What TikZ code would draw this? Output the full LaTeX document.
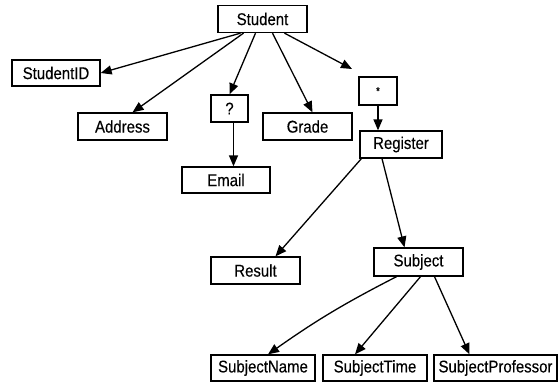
\documentclass[tikz,border=0pt]{standalone}
\usepackage{fontspec}
\setmainfont{Liberation Sans}
\newfontfamily\condfont[FakeStretch=0.88,FakeBold=0.25]{Liberation Sans}
\usetikzlibrary{arrows.meta}
\begin{document}
\begin{tikzpicture}[x=1pt,y=-1pt,
  box/.style={draw,line width=1.3pt,inner sep=0pt,font=\condfont\fontsize{17}{17}\selectfont},
  arr/.style={line width=1.3pt,-{Triangle[length=11pt,width=9pt]}}]
\useasboundingbox (0,0) rectangle (559,383);
\node[box,minimum width=89pt,minimum height=27pt] (student) at (262.5,19) {Student};
\node[box,minimum width=88pt,minimum height=26pt] (sid) at (56,73) {StudentID};
\node[box,minimum width=89pt,minimum height=27pt] (address) at (122.5,126.5) {Address};
\node[box,minimum width=37pt,minimum height=27pt] (q) at (229.5,108.5) {?};
\node[box,minimum width=88pt,minimum height=26pt] (email) at (226,180) {Email};
\node[box,minimum width=89pt,minimum height=27pt] (grade) at (307.5,126.5) {Grade};
\node[box,minimum width=38pt,minimum height=28pt] (star) at (378,91) {\fontsize{11}{11}\selectfont *};
\node[box,minimum width=82pt,minimum height=27pt] (register) at (401,144.5) {Register};
\node[box,minimum width=89pt,minimum height=27pt] (result) at (255.5,270.5) {Result};
\node[box,minimum width=89pt,minimum height=28pt] (subject) at (418.5,262) {Subject};
\node[box,minimum width=104pt,minimum height=26pt] (sname) at (263,368) {SubjectName};
\node[box,minimum width=104pt,minimum height=26pt] (stime) at (375,368) {SubjectTime};
\node[box,minimum width=123pt,minimum height=26pt] (sprof) at (495.5,368) {SubjectProfessor};
\coordinate (free) at (352,69);

\draw[arr] ([xshift=-22pt]student.south) -- (sid.east);
\draw[arr] ([xshift=-19pt]student.south) -- ([xshift=10pt]address.north);
\draw[arr] ([xshift=-7pt]student.south) -- (q.north);
\draw[arr] ([xshift=10pt]student.south) -- ([xshift=5pt]grade.north);
\draw[arr] ([xshift=22pt]student.south) -- (free);
\draw[arr] (star.south) -- (star.south |- register.north);
\draw[arr] ([xshift=4pt]q.south) -- ([xshift=4pt]q.south |- email.north);
\draw[arr] ([xshift=2pt]register.south west) -- ([xshift=20pt]result.north);
\draw[arr] ([xshift=-19pt]register.south) -- ([xshift=-14pt]subject.north);
\draw[arr] ([xshift=-22pt]subject.south) to[bend right=4] ([xshift=5pt]sname.north);
\draw[arr] ([xshift=2pt]subject.south) -- ([xshift=-20pt]stime.north);
\draw[arr] ([xshift=16pt]subject.south) -- ([xshift=-26pt]sprof.north);
\end{tikzpicture}
\end{document}
